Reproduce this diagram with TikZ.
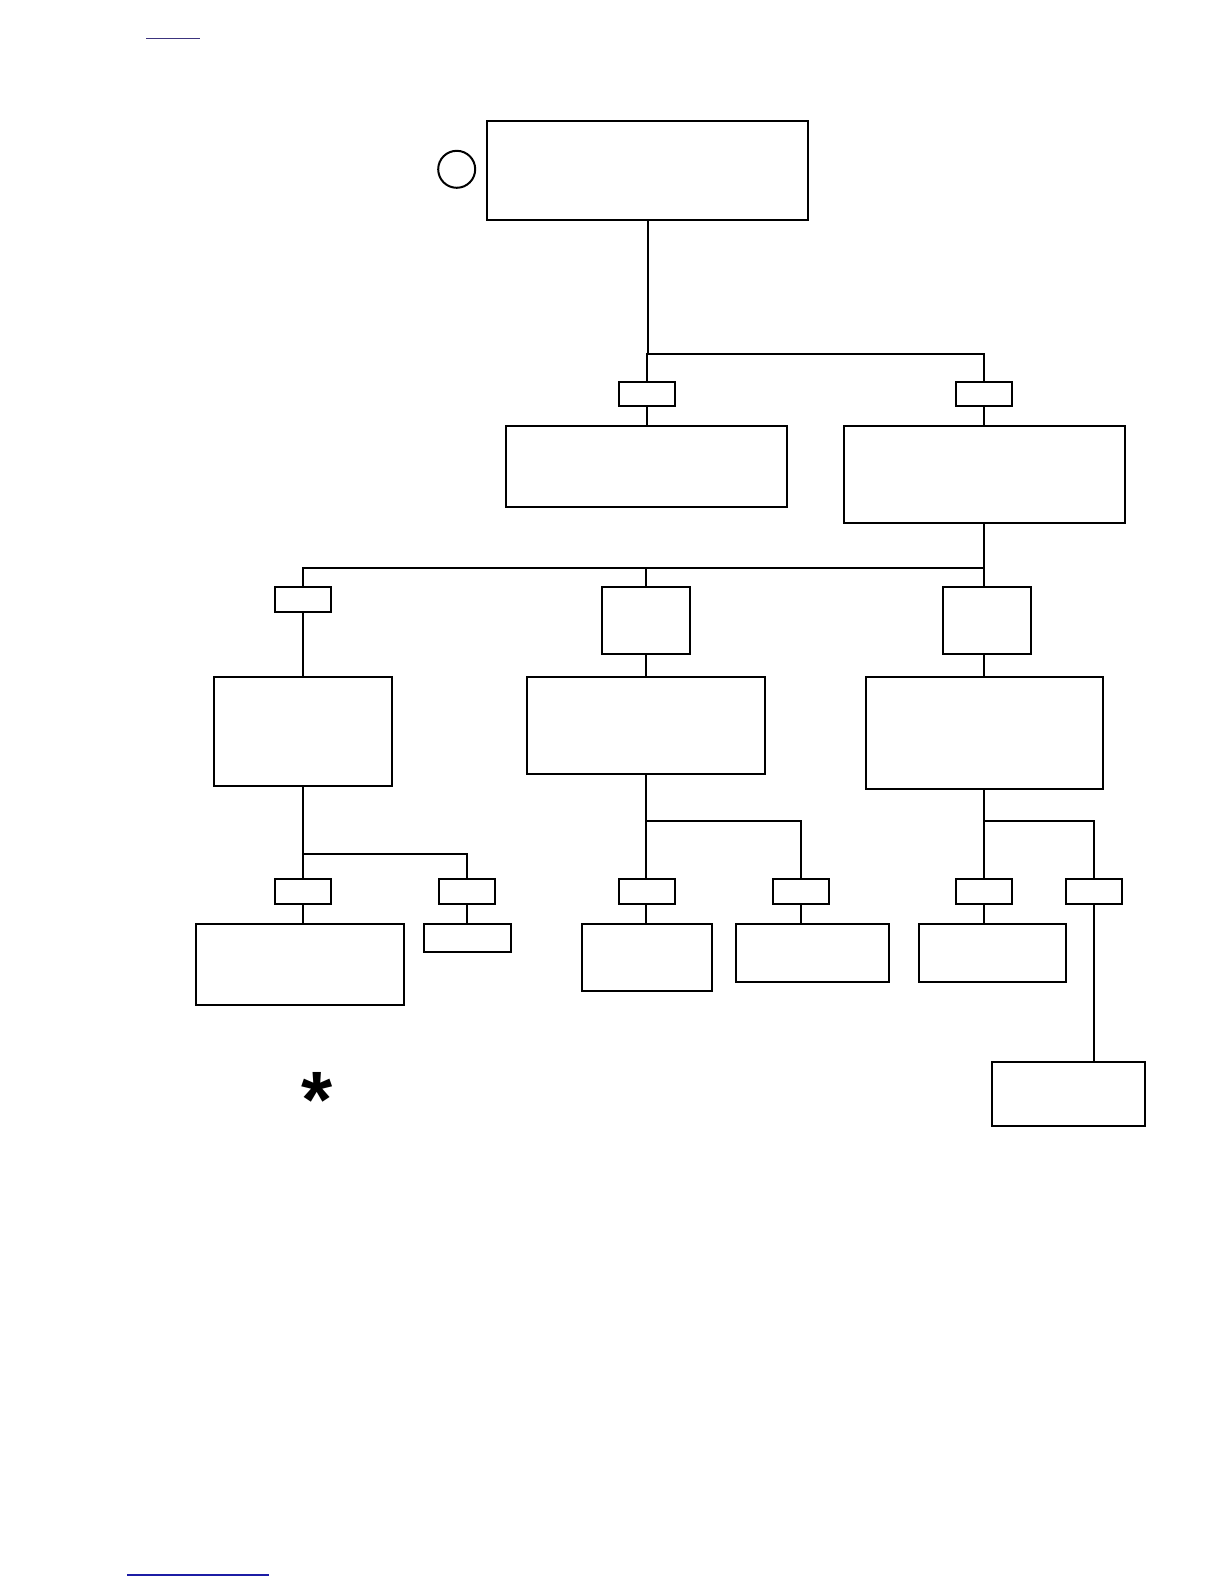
\documentclass[tikz,border=0pt]{standalone}
\usepackage{fontspec}
\setmainfont{Liberation Sans}
\definecolor{linktop}{RGB}{60,52,125}
\definecolor{linkbot}{RGB}{28,28,165}
\tikzset{
  box/.style={draw=black, line width=1pt, rectangle, inner sep=0pt, fill=white},
  conn/.style={draw=black, line width=1pt},
  linkline/.style={line width=0.6pt}
}
\newcommand\bx[5]{\node[box, minimum width={#4*0.5pt}, minimum height={#5*0.5pt}] (#1) at (#2,#3) {};}
\begin{document}
\begin{tikzpicture}[x=0.5pt, y=-0.5pt]
\useasboundingbox (0,0) rectangle (1224,1584);
% link underlines
\coordinate (lt1) at (146,38.5); \coordinate (lt2) at (200,38.5);
\draw[linkline, draw=linktop] (lt1) -- (lt2);
\coordinate (lb1) at (127,1575); \coordinate (lb2) at (269,1575);
\draw[linkline, draw=linkbot] (lb1) -- (lb2);
% boxes
\bx{top}{647.5}{170.5}{321}{99}
\node[draw=black, line width=1pt, circle, inner sep=0pt, minimum size=18.5pt] (circ) at (456.7,169.3) {};
\bx{s1L}{646.5}{394}{56}{24.5}
\bx{s1R}{984}{394}{56}{24.5}
\bx{b2L}{646.5}{466.5}{281}{81}
\bx{b2R}{984}{474.5}{281}{97}
\bx{s2A}{303}{599.5}{56}{25}
\bx{s2B}{646}{620.5}{88}{67}
\bx{s2C}{987}{620.5}{88}{67}
\bx{b3A}{303}{731.5}{178}{109}
\bx{b3B}{646}{725.5}{238}{97}
\bx{b3C}{984.5}{733}{237}{112}
\bx{s3A1}{303}{891.5}{56}{25}
\bx{s3A2}{467}{891.5}{56}{25}
\bx{s3B1}{646.5}{891.5}{56}{25}
\bx{s3B2}{801}{891.5}{56}{25}
\bx{s3C1}{984}{891.5}{56}{25}
\bx{s3C2}{1094}{891.5}{56}{25}
\bx{b4A1}{300}{964.5}{208}{81}
\bx{b4A2}{467}{938}{87}{28}
\bx{b4B1}{647}{957.5}{130}{67}
\bx{b4B2}{812.5}{953}{153}{58}
\bx{b4C1}{992.5}{953}{147}{58}
\bx{b5}{1068.5}{1094}{153}{64}
% asterisk
\node[inner sep=0pt, anchor=base, font=\bfseries\fontsize{40}{40}\selectfont] (ast) at (317,1127) {*};
% bus coordinates
\coordinate (bus1) at (647.5,354);
\coordinate (bus2) at (984,567.5);
\coordinate (bus3A) at (303,854);
\coordinate (bus3B) at (646,821);
\coordinate (bus3C) at (984,821);
% connectors
\draw[conn] (top.south) -- (bus1) -| (s1R.north);
\draw[conn] (bus1) -| (s1L.north);
\draw[conn] (s1L.south) -- (b2L.north);
\draw[conn] (s1R.south) -- (b2R.north);
\draw[conn] (b2R.south) -- (bus2) -| (s2A.north);
\draw[conn] (bus2) -| (s2B.north);
\draw[conn] (bus2) -- (s2C.north -| bus2);
\draw[conn] (s2A.south) -- (b3A.north);
\draw[conn] (s2B.south) -- (b3B.north);
\draw[conn] (s2C.south -| bus2) -- (b3C.north -| bus2);
\draw[conn] (b3A.south) -- (bus3A) -| (s3A2.north);
\draw[conn] (bus3A) -- (s3A1.north);
\draw[conn] (s3A1.south) -- (s3A1.south |- b4A1.north);
\draw[conn] (s3A2.south) -- (b4A2.north);
\draw[conn] (b3B.south) -- (bus3B) -| (s3B2.north);
\draw[conn] (bus3B) -- (bus3B |- s3B1.north);
\draw[conn] (s3B1.south -| bus3B) -- (bus3B |- b4B1.north);
\draw[conn] (s3B2.south) -- (s3B2.south |- b4B2.north);
\draw[conn] (b3C.south -| bus3C) -- (bus3C) -| (s3C2.north);
\draw[conn] (bus3C) -- (s3C1.north);
\draw[conn] (s3C1.south) -- (s3C1.south |- b4C1.north);
\draw[conn] (s3C2.south) -- (s3C2.south |- b5.north);
\end{tikzpicture}
\end{document}
